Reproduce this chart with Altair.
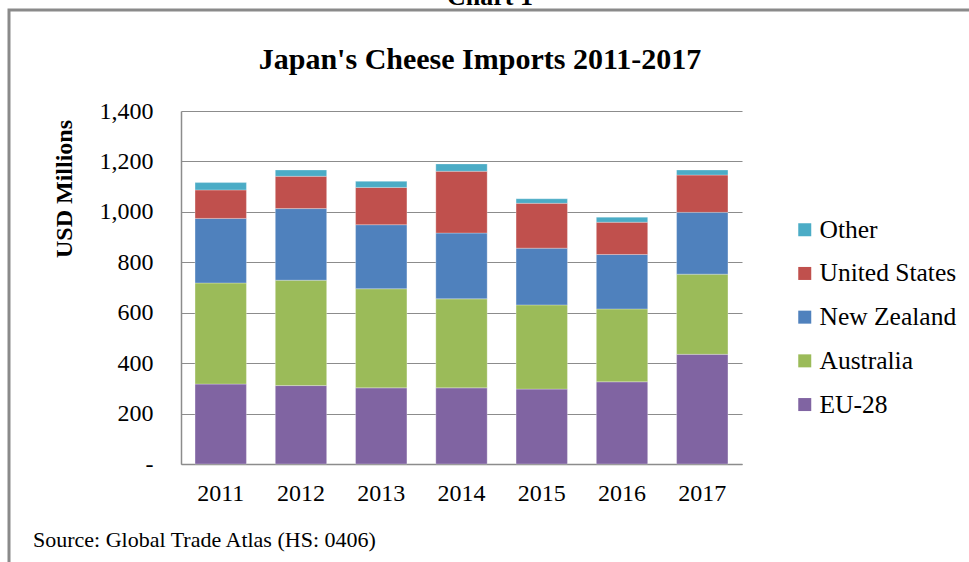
import altair as alt
import pandas as pd

years = ["2011", "2012", "2013", "2014", "2015", "2016", "2017"]
eu28 = [317, 311, 302, 302, 297, 326, 435]
australia = [401, 418, 393, 353, 334, 289, 318]
new_zealand = [256, 284, 254, 261, 225, 216, 245]
united_states = [113, 128, 148, 245, 178, 128, 148]
other = [29, 25, 24, 29, 18, 20, 20]

series_names = ["EU-28", "Australia", "New Zealand", "United States", "Other"]
series_values = [eu28, australia, new_zealand, united_states, other]
legend_order = ["Other", "United States", "New Zealand", "Australia", "EU-28"]
colors = ["#4BACC6", "#C0504D", "#4F81BD", "#9BBB59", "#8064A2"]

y_ticks = [0, 200, 400, 600, 800, 1000, 1200, 1400]

title_text = "Japan's Cheese Imports 2011-2017"
y_title = "USD Millions"
source_text = "Source: Global Trade Atlas (HS: 0406)"
chart_label = "Chart 1"

rows = []
for idx, (name, vals) in enumerate(zip(series_names, series_values)):
    for yr, v in zip(years, vals):
        rows.append({"year": yr, "series": name, "value": v, "stack_idx": idx})
df = pd.DataFrame(rows)

FONT = "Liberation Serif"

bars = alt.Chart(df).mark_bar(stroke="#ffffff", strokeOpacity=0.35, strokeWidth=0.8).encode(
    x=alt.X("year:N", sort=years,
            scale=alt.Scale(paddingInner=0.36, paddingOuter=0.175),
            axis=alt.Axis(title=None, labelAngle=0, labelFont=FONT, labelFontSize=24,
                          labelColor="#000000", labelPadding=17, ticks=False,
                          domainColor="#8c8c8c", domainWidth=1.5, grid=False)),
    y=alt.Y("value:Q", stack="zero",
            scale=alt.Scale(domain=[0, 1400], nice=False),
            axis=alt.Axis(title=None, values=y_ticks, labelFont=FONT, labelFontSize=24,
                          labelColor="#000000", labelPadding=28, ticks=False,
                          labelExpr="datum.value == 0 ? '-' : format(datum.value, ',')",
                          domainColor="#8c8c8c", domainWidth=1.5,
                          grid=True, gridColor="#8c8c8c", gridWidth=1.2)),
    color=alt.Color("series:N",
                    scale=alt.Scale(domain=legend_order, range=colors),
                    legend=alt.Legend(title=None, orient="none", legendX=611, legendY=106,
                                      padding=0, symbolType="square", symbolSize=169,
                                      symbolStrokeWidth=0, labelFont=FONT, labelFontSize=25.5,
                                      labelColor="#000000", labelOffset=2, rowPadding=16.7,
                                      labelBaseline="middle")),
    order=alt.Order("stack_idx:Q", sort="ascending"),
)

one = pd.DataFrame({"t": [0]})

frame = alt.Chart(one).mark_rect(fill=None, stroke="#8a8a8a", strokeWidth=3).encode(
    x=alt.value(-172), x2=alt.value(830), y=alt.value(-101), y2=alt.value(500)
)

title = alt.Chart(pd.DataFrame({"t": [title_text]})).mark_text(
    font=FONT, fontSize=30, fontWeight="bold", color="#000000", align="center", baseline="alphabetic"
).encode(text="t:N", x=alt.value(299), y=alt.value(-42))

chart_lbl = alt.Chart(pd.DataFrame({"t": [chart_label]})).mark_text(
    font=FONT, fontSize=26, fontWeight="bold", color="#000000", align="center", baseline="alphabetic"
).encode(text="t:N", x=alt.value(309), y=alt.value(-106))

ytitle = alt.Chart(pd.DataFrame({"t": [y_title]})).mark_text(
    font=FONT, fontSize=24, fontWeight="bold", color="#000000", align="center",
    baseline="middle", angle=270
).encode(text="t:N", x=alt.value(-116), y=alt.value(78))

source = alt.Chart(pd.DataFrame({"t": [source_text]})).mark_text(
    font=FONT, fontSize=22, color="#000000", align="left", baseline="alphabetic"
).encode(text="t:N", x=alt.value(-148), y=alt.value(436))

chart = alt.layer(frame, bars, title, chart_lbl, ytitle, source).properties(
    width=561, height=353,
    autosize=alt.AutoSizeParams(type="none"),
    padding={"left": 181, "top": 111, "right": 227, "bottom": 98},
    background="#ffffff",
).configure_view(stroke=None).configure_legend(
    labelFont=FONT, labelFontSize=25.5, labelColor="#000000"
)

chart.save("out.html", embed_options={"renderer": "svg", "actions": False})
